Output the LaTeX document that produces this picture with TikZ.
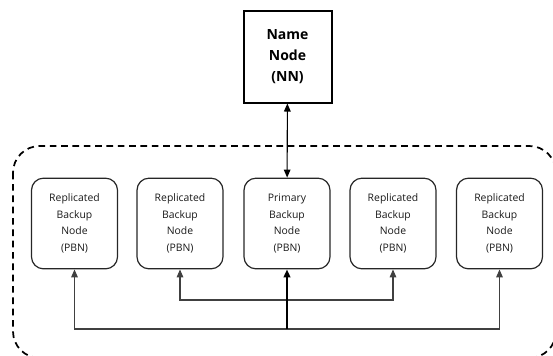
\documentclass[tikz,border=0pt]{standalone}
\usepackage{fontspec}
\setmainfont{Open Sans}
\usepackage{tikz}
\usetikzlibrary{positioning,arrows.meta}

\begin{document}
\begin{tikzpicture}
  [x=0.75pt,y=-0.75pt,
   every node/.style={align=center,inner sep=0pt},
   bnode/.style={draw=black!85,line width=0.9pt,rounded corners=9pt,minimum width=64.5pt,minimum height=68pt,
     font=\fontsize{7.8}{12.4}\selectfont,text=black!90},
   nnode/.style={draw,line width=1.5pt,minimum width=66pt,minimum height=69pt,
     font=\bfseries\fontsize{10.5}{15.7}\selectfont},
   link/.style={draw=black!75,line width=0.8pt,-{Triangle[length=6pt,width=5pt]}}]
  \useasboundingbox (0,0) rectangle (553,355);
  \draw[dashed,dash pattern=on 5pt off 3.5pt,line width=1.3pt,rounded corners=20pt]
    (13,146) rectangle (556,358);

  \node[nnode] (nn) at (287.5,56.5) {Name\\Node\\(NN)};
  \node[bnode] (rbn1) at (74.5,223.5) {Replicated\\Backup\\Node\\(PBN)};
  \node[bnode] (rbn2) at (180,223.5) {Replicated\\Backup\\Node\\(PBN)};
  \node[bnode] (pbn) at (287,223.5) {Primary\\Backup\\Node\\(PBN)};
  \node[bnode] (rbn3) at (393,223.5) {Replicated\\Backup\\Node\\(PBN)};
  \node[bnode] (rbn4) at (499.5,223.5) {Replicated\\Backup\\Node\\(PBN)};

  \coordinate (up) at (287,300);
  \coordinate (low) at (287,329);

  \draw[black,line width=0.8pt,{Triangle[length=6pt,width=5pt]}-{Triangle[length=6pt,width=5pt]}] (nn) -- (pbn);
  \draw[link] (low) -| (rbn1);
  \draw[link] (low) -| (rbn4);
  \draw[link] (up) -| (rbn2);
  \draw[link] (up) -| (rbn3);
  \draw[link,draw=black,line width=1.5pt] (low) -- (pbn);
\end{tikzpicture}
\end{document}
